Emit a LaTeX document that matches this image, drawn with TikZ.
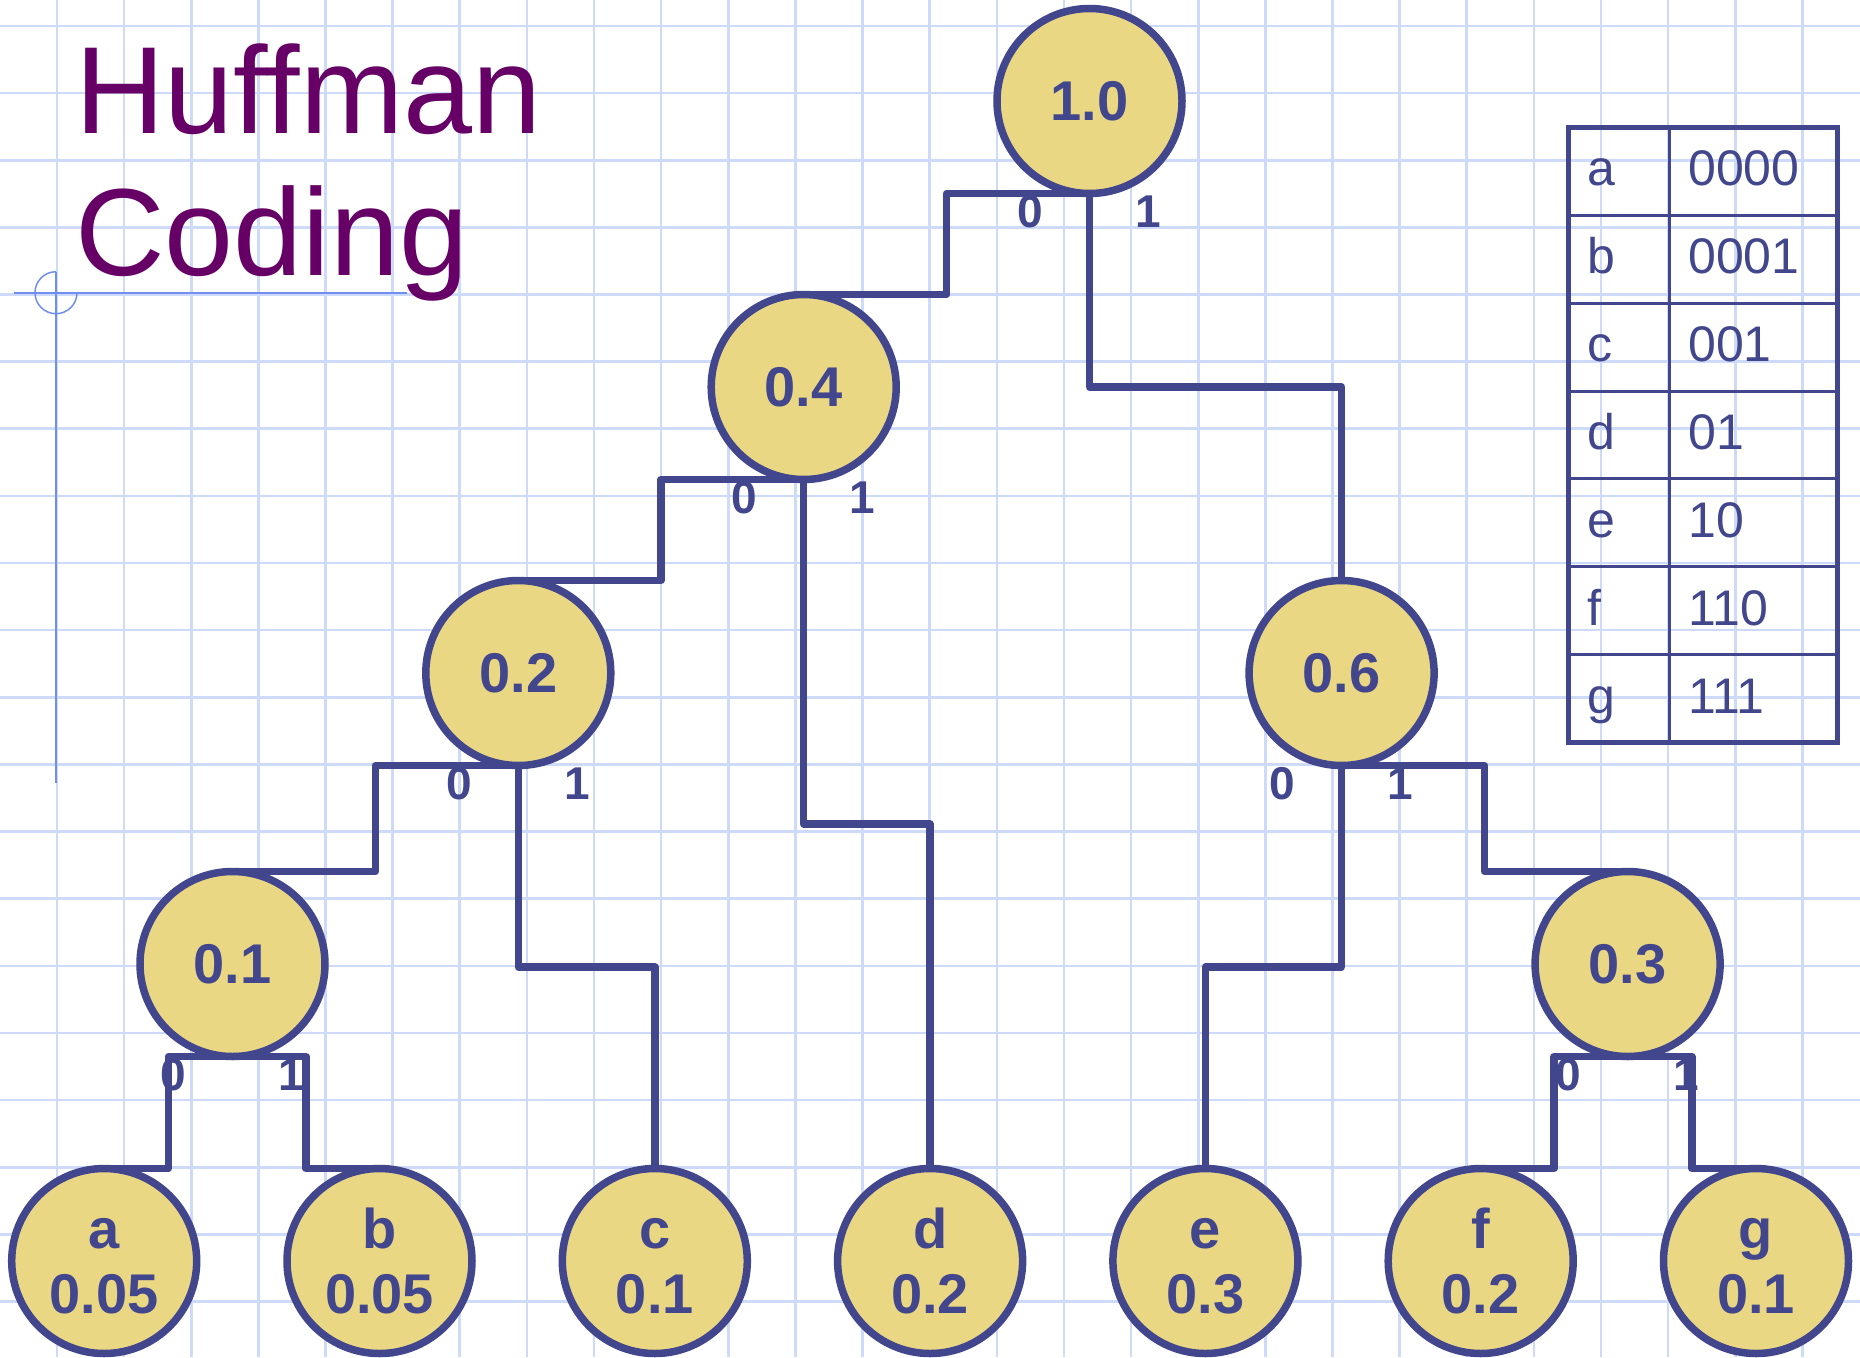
\documentclass[tikz,border=0pt]{standalone}
\usepackage{fontspec}
\setmainfont{Liberation Sans}
\usetikzlibrary{calc}
\definecolor{navy}{RGB}{66,70,140}
\definecolor{nodefill}{RGB}{234,215,132}
\definecolor{gridblue}{RGB}{206,218,250}
\definecolor{titlepurple}{RGB}{102,0,102}
\definecolor{marginblue}{RGB}{112,142,240}
\pgfdeclarelayer{paper}
\pgfdeclarelayer{wires}
\pgfsetlayers{paper,wires,main}
% two-line leaf text: symbol over probability
\newcommand\leafText[2]{\rule{0pt}{41pt}#1\\#2}

\begin{document}
\begin{tikzpicture}[x=1pt,y=-1pt,
  gridline/.style={draw=gridblue, line width=2.6pt},
  marginline/.style={draw=marginblue, line width=2pt},
  hnode/.style={circle, draw=navy, fill=nodefill, line width=7.5pt,
    minimum size=185pt, inner sep=0pt, outer sep=0pt, text=navy,
    align=center, font=\bfseries\fontsize{56pt}{65pt}\selectfont},
  link/.style={draw=navy, line width=7.5pt, line join=round},
  bitlabel/.style={text=navy, inner sep=0pt,
    font=\bfseries\fontsize{46pt}{46pt}\selectfont},
  titletext/.style={text=titlepurple, inner sep=0pt, anchor=base west,
    font=\fontsize{124pt}{142pt}\selectfont},
  tabletext/.style={text=navy, inner sep=0pt, anchor=base west,
    font=\fontsize{50pt}{60pt}\selectfont},
  tablerule/.style={draw=navy, line width=3pt},
]
\useasboundingbox (0,0) rectangle (1860,1357);

% squared paper and margin mark
\begin{pgfonlayer}{paper}
  \fill[white] (0,0) rectangle (1860,1357);
  \foreach \k in {0,...,26}
    \draw[gridline] ({57+67.13*\k},0) -- ({57+67.13*\k},1357);
  \foreach \k in {0,...,19}
    \draw[gridline] (0,{26+67.13*\k}) -- (1860,{26+67.13*\k});
  \coordinate (orn) at (56,292.7);
  \draw[marginline] ($(orn)+(0,-21)$) -- (56,783);
  \draw[marginline] (14,292.7) -- (407,292.7);
  \draw[marginblue, line width=1.5pt] ($(orn)+(21,0)$)
    arc[start angle=0, end angle=270, radius=21];
\end{pgfonlayer}

% title
\node[titletext] (titleA) at (75,133) {Huffman};
\node[titletext] (titleB) at (75,275) {Coding};

% tree nodes
\node[hnode] (n10) at (1089.5,101) {1.0};
\node[hnode] (n04) at (803.7,387) {0.4};
\node[hnode] (n02) at (518.3,673) {0.2};
\node[hnode] (n06) at (1341.6,673) {0.6};
\node[hnode] (n01) at (232.5,964) {0.1};
\node[hnode] (n03) at (1627.6,964) {0.3};

\node[hnode] (la) at (104.2,1261)  {\leafText{a}{0.05}};
\node[hnode] (lb) at (379.5,1261)  {\leafText{b}{0.05}};
\node[hnode] (lc) at (654.8,1261)  {\leafText{c}{0.1}};
\node[hnode] (ld) at (930.1,1261)  {\leafText{d}{0.2}};
\node[hnode] (le) at (1205.4,1261) {\leafText{e}{0.3}};
\node[hnode] (lf) at (1480.7,1261) {\leafText{f}{0.2}};
\node[hnode] (lg) at (1756,1261)   {\leafText{g}{0.1}};

% stepped connectors
\begin{pgfonlayer}{wires}
  % horizontal first
  \foreach \p/\c in {n10/n04, n04/n02, n02/n01, n06/n03, n01/la, n01/lb, n03/lf, n03/lg}
    \draw[link] (\p.south) -| ($(\p.south)!0.5!(\c.north)$) |- (\c.north);
  % vertical first
  \foreach \p/\c in {n10/n06, n04/ld, n02/lc, n06/le}
    \draw[link] (\p.south) |- ($(\p.south)!0.5!(\c.north)$) -| (\c.north);
\end{pgfonlayer}

% branch bits
\foreach \p in {n10,n04,n02,n06,n01,n03} {
  \node[bitlabel] (\p zero) at ($(\p)+(-59,111)$) {0};
  \node[bitlabel] (\p one)  at ($(\p)+(59,111)$)  {1};
}

% code table
\draw[navy, line width=5pt] (1568,127.3) rectangle (1837,742.6);
\foreach \i in {1,...,6}
  \draw[tablerule] (1568,{127.3+87.9*\i}) -- (1837,{127.3+87.9*\i});
\draw[tablerule] (1669.3,127.3) -- (1669.3,742.6);
\foreach \ltr/\cd [count=\i from 0] in {a/0000,b/0001,c/001,d/01,e/10,f/110,g/111} {
  \node[tabletext] (key\ltr)  at (1587,{185.75+87.9*\i}) {\ltr};
  \node[tabletext] (code\ltr) at (1688,{185.75+87.9*\i}) {\cd};
}
\end{tikzpicture}
\end{document}
